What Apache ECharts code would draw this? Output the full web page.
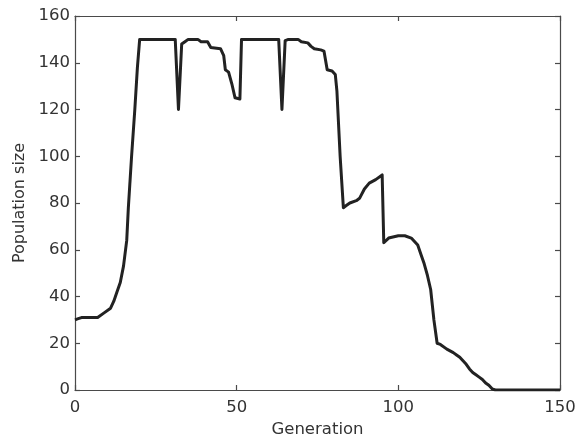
<!DOCTYPE html>
<html>
<head>
<meta charset="utf-8">
<script src="https://cdn.jsdelivr.net/npm/echarts@6/dist/echarts.min.js"></script>
<style>
  html, body { margin: 0; padding: 0; background: #fff; }
  #chart { width: 576px; height: 438px; }
</style>
</head>
<body>
<div id="chart"></div>
<script>
// Population size per generation
const generations = [0, 1, 2, 7, 9, 11, 12, 13, 14, 15, 16, 16.5, 17.5, 18.5, 19.3, 20,
  31, 32, 33, 34, 35, 38, 39, 41, 42, 45, 46, 46.5, 47.5, 48.5, 49.5, 51, 51.5,
  63, 64, 65, 66, 69, 70, 72, 73, 74, 76, 77, 78, 79.5, 80.5, 81, 82, 83,
  84, 85, 87, 88, 89.5, 91, 93, 95, 95.5, 97, 100, 102, 104, 106, 107, 108, 109, 110, 111, 112,
  113, 115, 117, 118, 119, 120, 121, 122, 123, 124, 125, 126, 127, 128, 129, 130, 150];
const popSize = [30, 30.5, 31, 31, 33, 35, 38, 42, 46, 53, 64, 78, 100, 120, 138, 150,
  150, 120, 148, 149, 150, 150, 149, 149, 146.5, 146, 143, 137, 136, 131, 125, 124.5, 150,
  150, 120, 149.5, 150, 150, 149, 148.5, 147, 146, 145.5, 145, 137, 136.5, 135, 128, 100, 78,
  79, 80, 81, 82, 86, 88.5, 90, 92, 63, 65, 66, 66, 65, 62, 58, 54, 49, 43, 30, 20,
  19.5, 17.5, 16, 15, 14, 12.5, 11, 9, 7.5, 6.5, 5.5, 4.5, 3, 2, 0.5, 0, 0];

const xTicks = { min: 0, max: 150, interval: 50 };
const yTicks = { min: 0, max: 160, interval: 20 };
const xLabel = 'Generation';
const yLabel = 'Population size';

const chart = echarts.init(document.getElementById('chart'));
const textColor = '#333';
const axisColor = '#4a4a4a';
const font = 'DejaVu Sans, Arial, sans-serif';

const boxAxis = (extra) => Object.assign({
  type: 'value',
  axisLine: { show: true, onZero: false, lineStyle: { color: axisColor, width: 1.2 } },
  axisTick: { show: true, inside: true, length: 5, lineStyle: { color: axisColor, width: 1.2 } },
  splitLine: { show: false },
  axisLabel: { show: false }
}, extra);

chart.setOption({
  backgroundColor: '#fff',
  animation: false,
  grid: { left: 75, right: 16, top: 16, bottom: 48, containLabel: false, outerBoundsMode: 'none' },
  xAxis: [
    boxAxis({
      position: 'bottom', min: xTicks.min, max: xTicks.max, interval: xTicks.interval,
      name: xLabel, nameLocation: 'middle', nameGap: 30,
      nameTextStyle: { color: textColor, fontSize: 16.5, fontFamily: font },
      axisLabel: { show: true, color: textColor, fontSize: 16.5, fontFamily: font, margin: 9 }
    }),
    boxAxis({ position: 'top', min: xTicks.min, max: xTicks.max, interval: xTicks.interval })
  ],
  yAxis: [
    boxAxis({
      position: 'left', min: yTicks.min, max: yTicks.max, interval: yTicks.interval,
      name: yLabel, nameLocation: 'middle', nameGap: 46,
      nameTextStyle: { color: textColor, fontSize: 16, fontFamily: font },
      axisLabel: { show: true, color: textColor, fontSize: 16.5, fontFamily: font, margin: 5 }
    }),
    boxAxis({ position: 'right', min: yTicks.min, max: yTicks.max, interval: yTicks.interval })
  ],
  series: [{
    type: 'line',
    xAxisIndex: 0,
    yAxisIndex: 0,
    data: generations.map((g, i) => [g, popSize[i]]),
    showSymbol: false,
    lineStyle: { color: '#222', width: 3, join: 'round' },
    clip: true
  }]
});
</script>
</body>
</html>
